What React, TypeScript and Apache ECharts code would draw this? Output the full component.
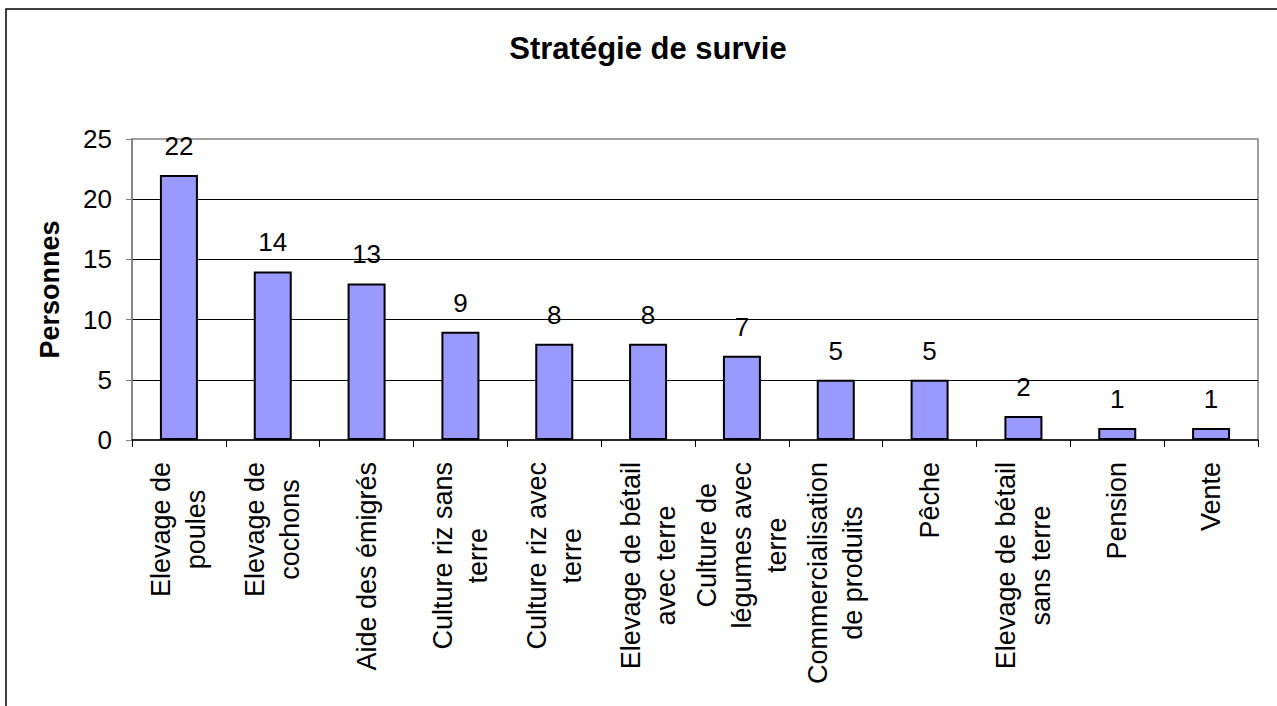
import React, { useEffect, useRef } from "react";
import * as echarts from "echarts";

const title = "Stratégie de survie";
const yAxisName = "Personnes";
const categories = [
  "Elevage de\npoules",
  "Elevage de\ncochons",
  "Aide des émigrés",
  "Culture riz sans\nterre",
  "Culture riz avec\nterre",
  "Elevage de bétail\navec terre",
  "Culture de\nlégumes avec\nterre",
  "Commercialisation\nde produits",
  "Pêche",
  "Elevage de bétail\nsans terre",
  "Pension",
  "Vente",
];
const values = [22, 14, 13, 9, 8, 8, 7, 5, 5, 2, 1, 1];
const yTicks = { min: 0, max: 25, interval: 5 };

const FONT = "'Liberation Sans', Arial, Helvetica, sans-serif";

export default function App() {
  const ref = useRef<HTMLDivElement>(null);
  useEffect(() => {
    if (!ref.current) return;
    const chart = echarts.init(ref.current, undefined, { renderer: "svg" });
    chart.setOption({
      animation: false,
      backgroundColor: "#ffffff",
      title: {
        text: title,
        left: 643,
        top: 28,
        textAlign: "center",
        textStyle: { fontFamily: FONT, fontSize: 31, fontWeight: "bold", color: "#000" },
      },
      graphic: [
        {
          type: "rect",
          shape: { x: 6, y: 9, width: 1290, height: 720 },
          style: { fill: "none", stroke: "#000", lineWidth: 1.5 },
          silent: true,
        },
      ],
      grid: {
        left: 132,
        right: 19,
        top: 139,
        bottom: 266,
        show: true,
        backgroundColor: "#ffffff",
        borderColor: "#808080",
        borderWidth: 1.5,
        containLabel: false,
      },
      xAxis: {
        type: "category",
        data: categories,
        boundaryGap: true,
        axisLine: { show: true, lineStyle: { color: "#000", width: 1.5 } },
        axisTick: { show: true, length: 7, lineStyle: { color: "#000", width: 1 } },
        axisLabel: {
          interval: 0,
          rotate: 90,
          margin: 22,
          fontFamily: FONT,
          fontSize: 27,
          color: "#000",
          lineHeight: 35,
          formatter: (v: string) =>
            v
              .split("\n")
              .map((l) => `{c|${l}}`)
              .join("\n"),
          rich: {
            c: { align: "center", fontFamily: FONT, fontSize: 27, color: "#000", lineHeight: 35 },
          },
        },
        splitLine: { show: false },
      },
      yAxis: {
        type: "value",
        min: yTicks.min,
        max: yTicks.max,
        interval: yTicks.interval,
        name: yAxisName,
        nameLocation: "middle",
        nameGap: 69,
        nameRotate: 90,
        nameTextStyle: { fontFamily: FONT, fontSize: 27, fontWeight: "bold", color: "#000" },
        axisLine: { show: true, lineStyle: { color: "#808080", width: 1.5 } },
        axisTick: { show: true, length: 6, lineStyle: { color: "#808080", width: 1 } },
        axisLabel: { margin: 20, fontFamily: FONT, fontSize: 26, color: "#000" },
        splitLine: { show: true, showMaxLine: false, showMinLine: false, lineStyle: { color: "#000", width: 1 } },
      },
      series: [
        {
          type: "bar",
          data: values,
          barWidth: 38,
          itemStyle: { color: "#9999FF", borderColor: "#000", borderWidth: 2 },
          label: {
            show: true,
            position: "top",
            distance: 16,
            fontFamily: FONT,
            fontSize: 26,
            color: "#000",
          },
        },
      ],
    });
    return () => chart.dispose();
  }, []);
  return (
    <div
      ref={ref}
      style={{ position: "absolute", left: 0, top: 0, width: 1277, height: 706 }}
    />
  );
}
